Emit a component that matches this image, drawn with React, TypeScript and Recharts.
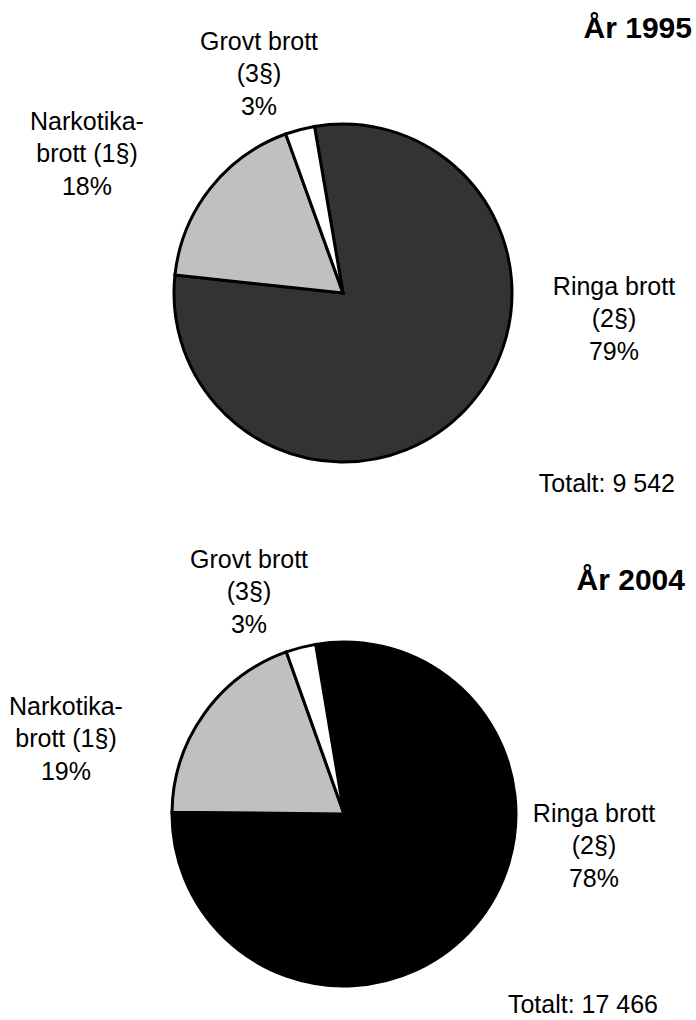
import React from 'react';
import { PieChart, Pie, Cell } from 'recharts';

const CATEGORIES = ['Ringa brott', 'Narkotikabrott', 'Grovt brott'];
const LABEL_LINES = [
  ['Ringa brott', '(2§)'],
  ['Narkotika-', 'brott (1§)'],
  ['Grovt brott', '(3§)'],
];
const YEARS = ['1995', '2004'];
const COUNTS_1995 = [7576, 1698, 268];
const COUNTS_2004 = [13589, 3388, 489];

const COLORS_1995 = ['#333333', '#c0c0c0', '#ffffff'];
const COLORS_2004 = ['#000000', '#c0c0c0', '#ffffff'];

const FONT = '"Liberation Sans", Arial, Helvetica, sans-serif';
const LINE_H = 32.3;

// layout of each pie and its texts (label anchors are text centre / first baseline)
const PIES = [
  {
    year: YEARS[0],
    counts: COUNTS_1995,
    colors: COLORS_1995,
    cx: 343,
    cy: 293,
    r: 169,
    start: 99.7,
    labelPos: [[614, 295], [87, 130], [259, 50]],
    titlePos: [692, 38],
    totalPos: [675, 492],
  },
  {
    year: YEARS[1],
    counts: COUNTS_2004,
    colors: COLORS_2004,
    cx: 344,
    cy: 814,
    r: 172,
    start: 99.5,
    labelPos: [[594, 822], [66, 715], [249, 568]],
    titlePos: [685, 590],
    totalPos: [658, 1013],
  },
];

const fmt = (n: number) => n.toString().replace(/\B(?=(\d{3})+(?!\d))/g, ' ');

const makeLabel = (pos: number[][]) => (props: any) => {
  const i = props.index;
  const [x, y] = pos[i];
  const lines = [...LABEL_LINES[i], `${Math.round(props.percent * 100)}%`];
  return (
    <text x={x} y={y} textAnchor="middle" fontSize={25} fill="#000" fontFamily={FONT}>
      {lines.map((l, k) => (
        <tspan key={k} x={x} dy={k === 0 ? 0 : LINE_H}>
          {l}
        </tspan>
      ))}
    </text>
  );
};

const App: React.FC = () => {
  return (
    <div style={{ position: 'absolute', left: 0, top: 0, background: '#fff' }}>
      <PieChart width={696} height={1020} margin={{ top: 0, right: 0, bottom: 0, left: 0 }}>
        {PIES.map((p) => (
          <Pie
            key={p.year}
            data={CATEGORIES.map((name, i) => ({ name, value: p.counts[i] }))}
            dataKey="value"
            nameKey="name"
            cx={p.cx}
            cy={p.cy}
            outerRadius={p.r}
            startAngle={p.start}
            endAngle={p.start - 360}
            stroke="#000"
            strokeWidth={3}
            labelLine={false}
            label={makeLabel(p.labelPos)}
            isAnimationActive={false}
          >
            {p.counts.map((_, i) => (
              <Cell key={`cell-${i}`} fill={p.colors[i]} />
            ))}
          </Pie>
        ))}
        {PIES.map((p) => (
          <g key={`t-${p.year}`} fontFamily={FONT} fill="#000">
            <text x={p.titlePos[0]} y={p.titlePos[1]} textAnchor="end" fontSize={30} fontWeight="bold">
              År {p.year}
            </text>
            <text x={p.totalPos[0]} y={p.totalPos[1]} textAnchor="end" fontSize={25}>
              Totalt: {fmt(p.counts.reduce((a, b) => a + b, 0))}
            </text>
          </g>
        ))}
      </PieChart>
    </div>
  );
};

export default App;
